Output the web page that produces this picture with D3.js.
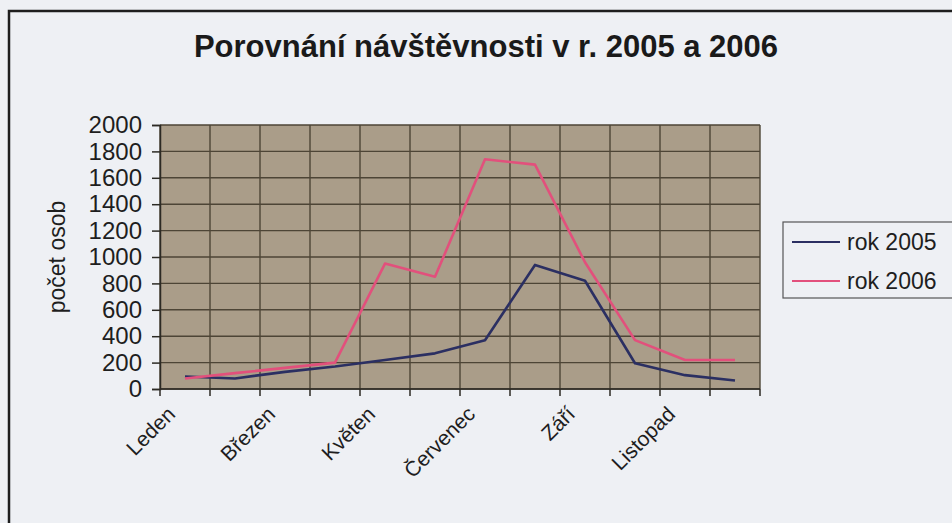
<!DOCTYPE html>
<html>
<head>
<meta charset="utf-8">
<script src="https://cdn.jsdelivr.net/npm/d3@7"></script>
<style>
  body { margin: 0; background: #eef0f4; }
  svg { display: block; font-family: Arial, "Liberation Sans", sans-serif; }
</style>
</head>
<body>
<svg id="chart" width="952" height="523"></svg>
<script>
const months = ['Leden', 'Únor', 'Březen', 'Duben', 'Květen', 'Červen',
    'Červenec', 'Srpen', 'Září', 'Říjen', 'Listopad', 'Prosinec'];
const rok2005 = [95, 80, 130, 170, 220, 270, 370, 940, 820, 195, 105, 65];
const rok2006 = [80, 120, 160, 200, 950, 850, 1740, 1700, 960, 370, 220, 220];
const yTicks = [0, 200, 400, 600, 800, 1000, 1200, 1400, 1600, 1800, 2000];
const seriesNames = ['rok 2005', 'rok 2006'];
const seriesColors = ['#2b2f62', '#e2507c'];

const svg = d3.select('#chart');
const plot = { left: 160, right: 760, top: 125, bottom: 389 };

// outer frame of the chart object
svg.append('rect')
    .attr('x', 9).attr('y', 11)
    .attr('width', 1000).attr('height', 1000)
    .attr('fill', 'none')
    .attr('stroke', '#1e1e1e')
    .attr('stroke-width', 2.5);

svg.append('text')
    .attr('x', 486).attr('y', 57)
    .attr('text-anchor', 'middle')
    .attr('font-size', 31)
    .attr('font-weight', 'bold')
    .attr('fill', '#1a1a1a')
    .text('Porovnání návštěvnosti v r. 2005 a 2006');

const x = d3.scaleBand().domain(months).range([plot.left, plot.right]);
const y = d3.scaleLinear().domain([0, 2000]).range([plot.bottom, plot.top]);

svg.append('rect')
    .attr('x', plot.left).attr('y', plot.top)
    .attr('width', plot.right - plot.left)
    .attr('height', plot.bottom - plot.top)
    .attr('fill', '#aa9d89');

// grid
const bounds = months.map(m => x(m)).concat([plot.right]);
svg.append('g').selectAll('line')
    .data(bounds)
    .enter().append('line')
    .attr('x1', d => d).attr('x2', d => d)
    .attr('y1', plot.top).attr('y2', plot.bottom)
    .attr('stroke', '#4d4536').attr('stroke-width', 1.4);

svg.append('g').selectAll('line')
    .data(yTicks)
    .enter().append('line')
    .attr('x1', plot.left).attr('x2', plot.right)
    .attr('y1', d => y(d)).attr('y2', d => y(d))
    .attr('stroke', '#4d4536').attr('stroke-width', 1.4);

// y axis
const yAxis = d3.axisLeft(y).tickValues(yTicks).tickFormat(d3.format('d'))
    .tickSize(8).tickPadding(10);
const yg = svg.append('g')
    .attr('transform', `translate(${plot.left},0)`)
    .call(yAxis);
yg.select('.domain').attr('stroke', '#2c2a24').attr('stroke-width', 1.5);
yg.selectAll('.tick line').attr('stroke', '#2c2a24').attr('stroke-width', 1.5);
yg.selectAll('.tick text')
    .attr('font-size', 24)
    .attr('font-family', 'Arial, "Liberation Sans", sans-serif')
    .attr('fill', '#1e1e1e');

// x axis: ticks on category boundaries
const xg = svg.append('g');
xg.append('line')
    .attr('x1', plot.left).attr('x2', plot.right)
    .attr('y1', plot.bottom).attr('y2', plot.bottom)
    .attr('stroke', '#2c2a24').attr('stroke-width', 1.5);
xg.selectAll('line.tick')
    .data(bounds)
    .enter().append('line')
    .attr('class', 'tick')
    .attr('x1', d => d).attr('x2', d => d)
    .attr('y1', plot.bottom).attr('y2', plot.bottom + 7)
    .attr('stroke', '#2c2a24').attr('stroke-width', 1.5);

xg.selectAll('text')
    .data(months.filter((m, i) => i % 2 === 0))
    .enter().append('text')
    .attr('transform', d => `translate(${x(d) + x.bandwidth() / 2 - 19},${plot.bottom + 16}) rotate(-45)`)
    .attr('text-anchor', 'end')
    .attr('dy', '0.7em')
    .attr('font-size', 21)
    .attr('fill', '#1e1e1e')
    .text(d => d);

svg.append('text')
    .attr('transform', 'translate(65,257) rotate(-90)')
    .attr('text-anchor', 'middle')
    .attr('font-size', 23)
    .attr('fill', '#1e1e1e')
    .text('počet osob');

// lines
const lineGen = d3.line()
    .x((d, i) => x(months[i]) + x.bandwidth() / 2)
    .y(d => y(d));

[rok2005, rok2006].forEach((vals, i) => {
    svg.append('path')
        .datum(vals)
        .attr('d', lineGen)
        .attr('fill', 'none')
        .attr('stroke', seriesColors[i])
        .attr('stroke-width', 2.6)
        .attr('stroke-linejoin', 'round');
});

// legend
const legend = svg.append('g');
legend.append('rect')
    .attr('x', 783).attr('y', 222)
    .attr('width', 200).attr('height', 76)
    .attr('fill', '#eef0f4')
    .attr('stroke', '#555')
    .attr('stroke-width', 1.2);

seriesNames.forEach((name, i) => {
    const ly = 242 + i * 39;
    legend.append('line')
        .attr('x1', 792).attr('x2', 840)
        .attr('y1', ly).attr('y2', ly)
        .attr('stroke', seriesColors[i])
        .attr('stroke-width', 2.2);
    legend.append('text')
        .attr('x', 847).attr('y', ly + 8)
        .attr('font-size', 23)
        .attr('fill', '#1e1e1e')
        .text(name);
});
</script>
</body>
</html>
